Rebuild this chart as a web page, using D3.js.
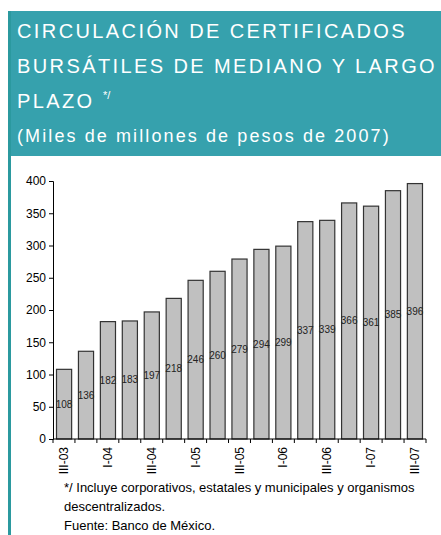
<!doctype html>
<html>
  <head>
    <meta charset="utf-8">
    <title>Circulación de certificados bursátiles</title>
    <script src="https://cdnjs.cloudflare.com/ajax/libs/d3/7.8.5/d3.min.js"></script>
    <style>
      body { margin: 0; background: #fff; }
      text { font-family: "Liberation Sans", Arial, sans-serif; }
    </style>
  </head>
  <body>
    <div id="chart"></div>
    <script>
      // data
      const quarters = ['III-03', 'IV-03', 'I-04', 'II-04', 'III-04', 'IV-04', 'I-05', 'II-05', 'III-05',
                        'IV-05', 'I-06', 'II-06', 'III-06', 'IV-06', 'I-07', 'II-07', 'III-07'];
      const values = [108, 136, 182, 183, 197, 218, 246, 260, 279, 294, 299, 337, 339, 366, 361, 385, 396];
      const yTicks = [0, 50, 100, 150, 200, 250, 300, 350, 400];
      const titleLines = ['CIRCULACIÓN DE CERTIFICADOS', 'BURSÁTILES DE MEDIANO Y LARGO', 'PLAZO'];
      const subtitle = '(Miles de millones de pesos de 2007)';
      const notes = ['*/ Incluye corporativos, estatales y municipales y organismos',
                     'descentralizados.', 'Fuente: Banco de México.'];

      const W = 441, H = 535;
      const svg = d3.select('#chart').append('svg')
        .attr('width', W)
        .attr('height', H);

      // teal header + left rule
      svg.append('rect')
        .attr('x', 8).attr('y', 11)
        .attr('width', W - 8).attr('height', 145)
        .attr('fill', '#36a1ad');
      svg.append('rect')
        .attr('x', 8).attr('y', 11)
        .attr('width', 3).attr('height', H - 11)
        .attr('fill', '#2b999f');

      svg.selectAll('.title')
        .data(titleLines)
        .join('text')
        .attr('class', 'title')
        .attr('x', 17)
        .attr('y', (d, i) => 38 + i * 35)
        .attr('fill', '#fff')
        .style('font-size', '20px')
        .style('letter-spacing', '2.4px')
        .text(d => d);

      svg.append('text')
        .attr('x', 103).attr('y', 99)
        .attr('fill', '#fff')
        .style('font-size', '11px')
        .text('*/');

      svg.append('text')
        .attr('x', 17).attr('y', 142)
        .attr('fill', '#fff')
        .style('font-size', '18px')
        .style('letter-spacing', '2.1px')
        .text(subtitle);

      // chart area
      const x = d3.scaleBand()
        .domain(quarters)
        .range([53, 426])
        .paddingInner(0.31)
        .paddingOuter(0.16);

      const y = d3.scaleLinear()
        .domain([0, 400])
        .range([439, 181]);

      const yAxis = svg.append('g')
        .attr('transform', 'translate(53,0)')
        .call(d3.axisLeft(y).tickValues(yTicks).tickSize(4).tickPadding(3));
      yAxis.selectAll('text').style('font-size', '12px').attr('fill', '#000');
      yAxis.selectAll('line, path').attr('stroke', '#000');

      svg.selectAll('.bar')
        .data(values)
        .join('rect')
        .attr('class', 'bar')
        .attr('x', (d, i) => x(quarters[i]))
        .attr('y', d => y(d))
        .attr('width', x.bandwidth())
        .attr('height', d => y(0) - y(d))
        .attr('fill', '#c0c0c0')
        .attr('stroke', '#333')
        .attr('stroke-width', 1.2);

      svg.selectAll('.val')
        .data(values)
        .join('text')
        .attr('class', 'val')
        .attr('x', (d, i) => x(quarters[i]) + x.bandwidth() / 2)
        .attr('y', d => (y(d) + y(0)) / 2 + 3.5)
        .attr('text-anchor', 'middle')
        .style('font-size', '10px')
        .attr('fill', '#222')
        .text(d => d);

      // x axis, ticks between the bars
      const edge = i => 53 + i * ((426 - 53) / quarters.length);
      const xg = svg.append('g');
      xg.append('line')
        .attr('x1', 53).attr('x2', 426)
        .attr('y1', y(0)).attr('y2', y(0))
        .attr('stroke', '#000');
      xg.selectAll('.xt')
        .data(d3.range(quarters.length + 1))
        .join('line')
        .attr('class', 'xt')
        .attr('x1', edge)
        .attr('x2', edge)
        .attr('y1', y(0)).attr('y2', y(0) + 4)
        .attr('stroke', '#000');

      xg.selectAll('.xl')
        .data(quarters.filter((d, i) => i % 2 === 0))
        .join('text')
        .attr('class', 'xl')
        .attr('transform', d => `translate(${x(d) + x.bandwidth() / 2 + 4},${y(0) + 8}) rotate(-90)`)
        .attr('text-anchor', 'end')
        .style('font-size', '12px')
        .attr('fill', '#000')
        .text(d => d);

      svg.selectAll('.note')
        .data(notes)
        .join('text')
        .attr('class', 'note')
        .attr('x', 64)
        .attr('y', (d, i) => 492 + i * 19)
        .style('font-size', '13px')
        .attr('fill', '#000')
        .text(d => d);
    </script>
  </body>
</html>
